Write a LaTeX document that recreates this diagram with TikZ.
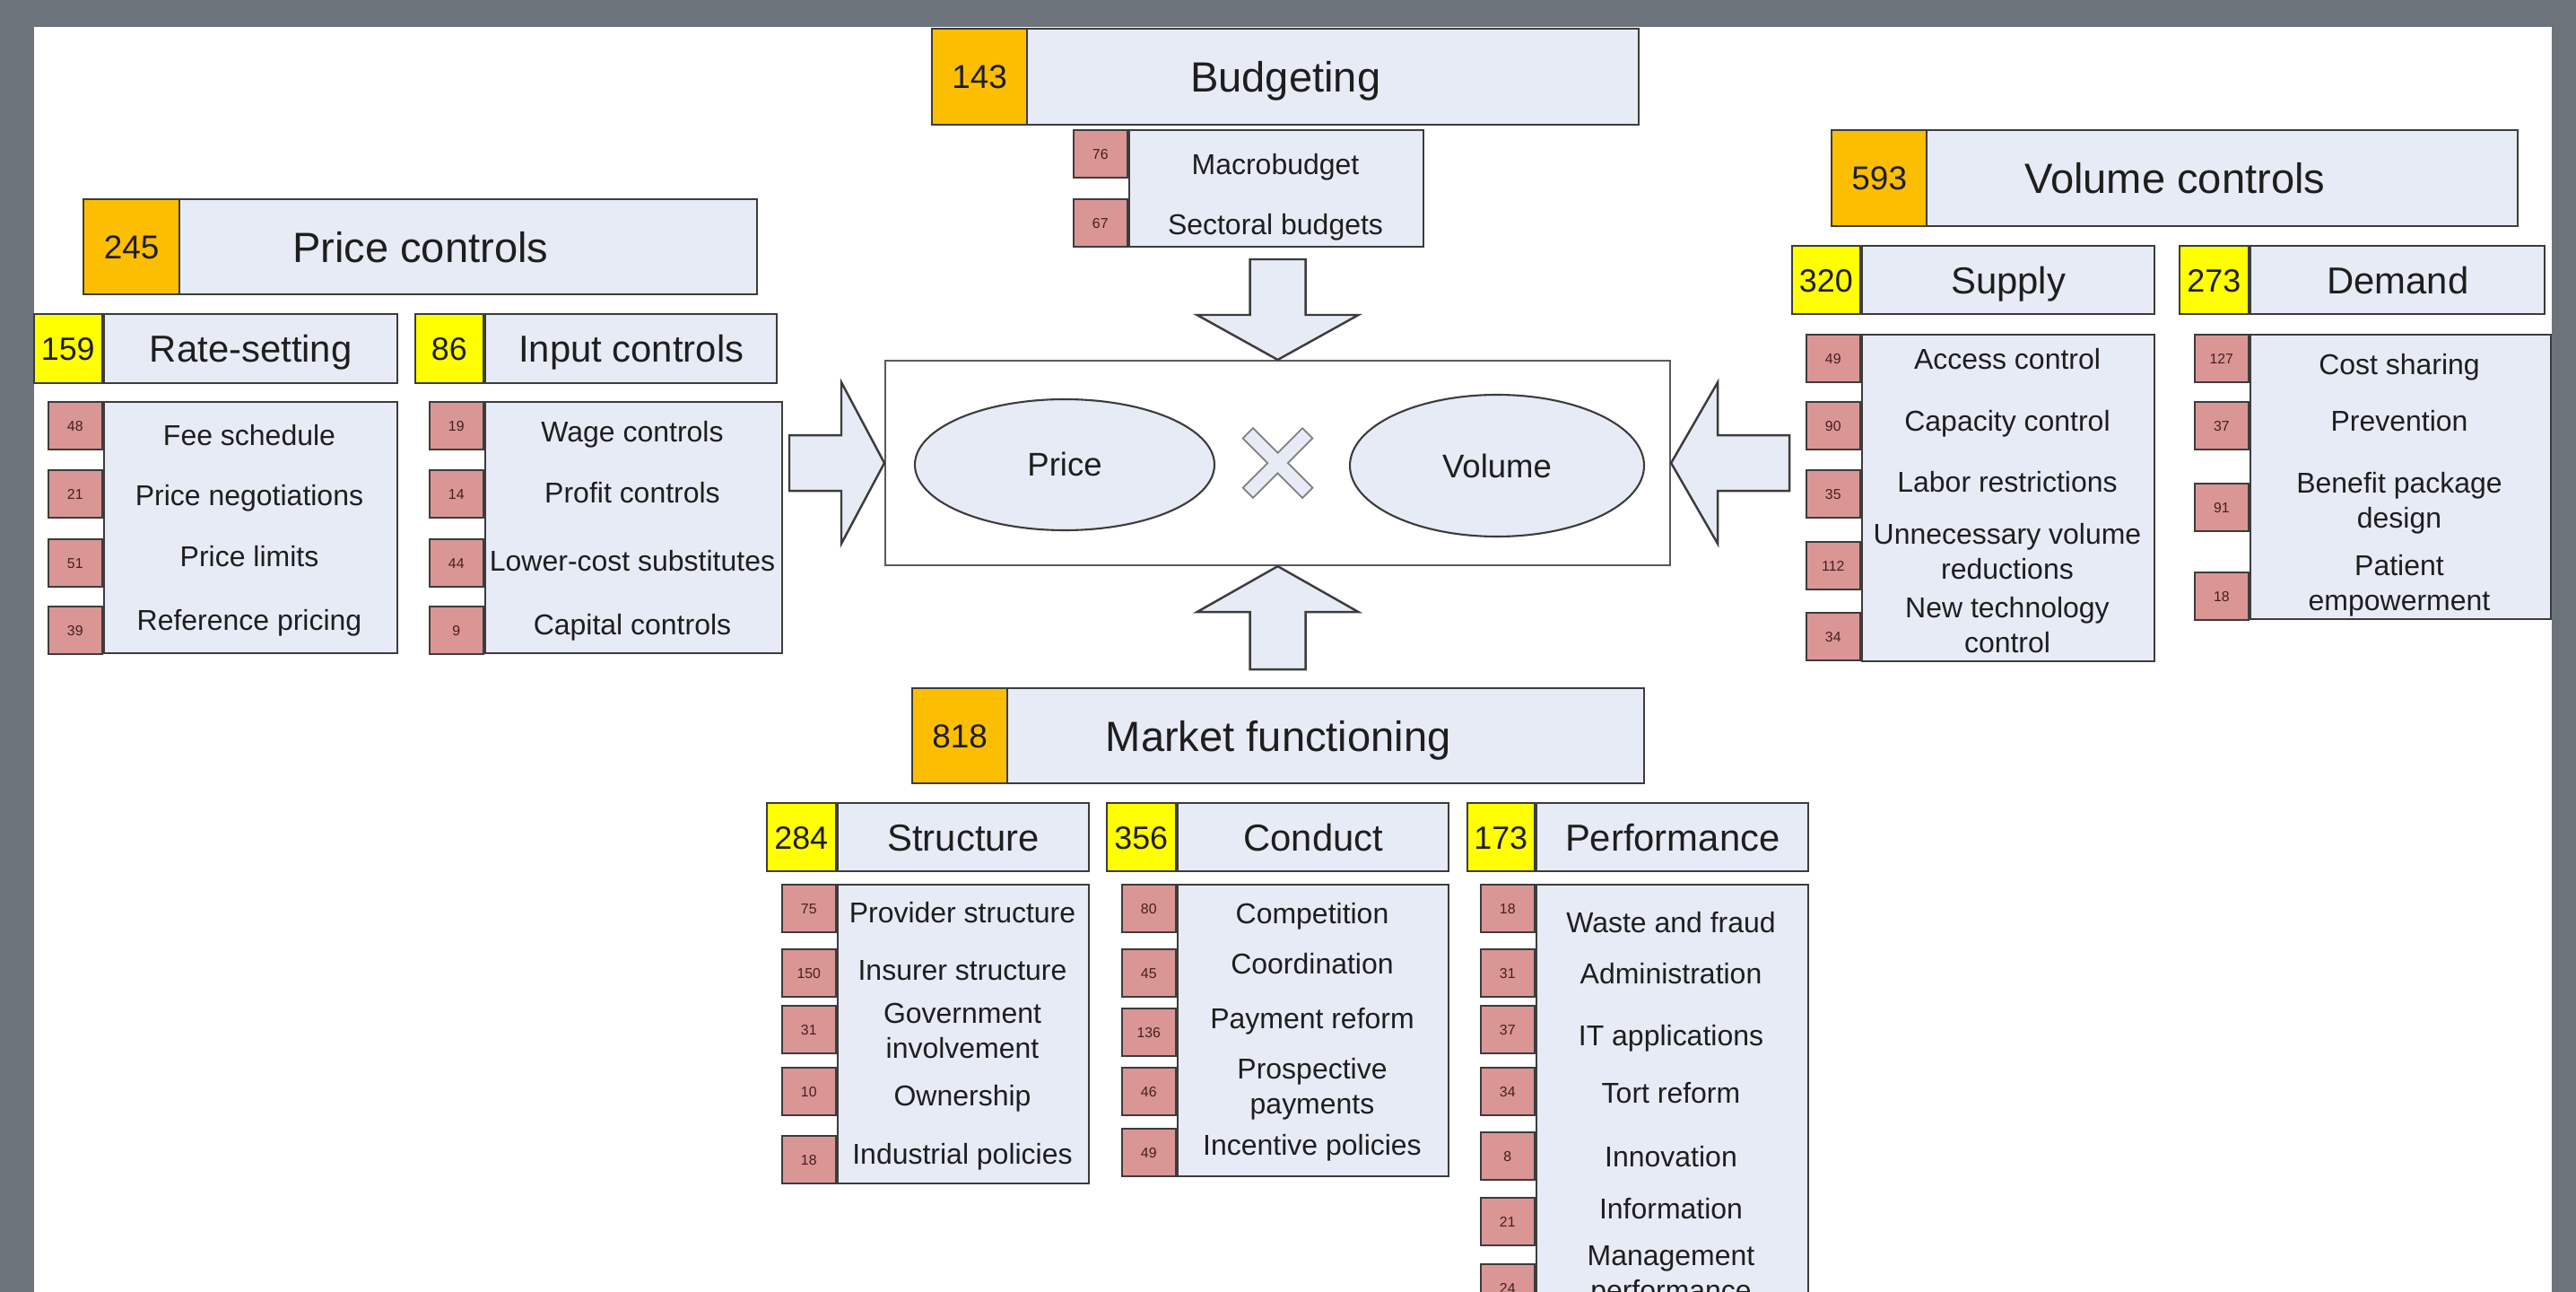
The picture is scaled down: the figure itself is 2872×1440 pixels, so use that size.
\documentclass[tikz,border=0pt]{standalone}
\usepackage{fontspec}
\setmainfont{Liberation Sans}
\usepackage{tikz}
\usetikzlibrary{shapes.geometric}
\definecolor{framegray}{RGB}{108,115,123}
\definecolor{linegray}{RGB}{60,60,60}
\definecolor{lightblue}{RGB}{230,235,246}
\definecolor{orangefill}{RGB}{252,190,0}
\definecolor{yellowfill}{RGB}{255,255,0}
\definecolor{tabred}{RGB}{217,150,148}
\definecolor{tabtext}{RGB}{70,30,30}
\definecolor{inkgray}{RGB}{30,30,30}
\tikzset{
	boxsize/.style 2 args={anchor=north west,minimum width=#1*0.1mm,minimum height=#2*0.1mm},
	headstyle/.style={rectangle,draw=linegray,line width=0.7pt,fill=lightblue,inner sep=0pt,text=inkgray,font=\fontsize{13.4pt}{16pt}\selectfont,text height=9.6pt,text depth=0pt},
	substyle/.style={headstyle,font=\fontsize{11.9pt}{14pt}\selectfont,text height=8.5pt},
	bignumstyle/.style={rectangle,draw=linegray,line width=0.7pt,fill=orangefill,inner sep=0pt,text=inkgray,font=\fontsize{10.5pt}{12pt}\selectfont,text height=7.5pt,text depth=0pt},
	numstyle/.style={bignumstyle,fill=yellowfill,font=\fontsize{10.2pt}{12pt}\selectfont,text height=7.3pt},
	itemboxstyle/.style={rectangle,draw=linegray,line width=0.7pt,fill=lightblue,inner sep=0pt},
	tabstyle/.style={rectangle,draw=linegray,line width=0.7pt,fill=tabred,inner sep=0pt,anchor=north east,minimum width=6mm,minimum height=5.3mm,text=tabtext,font=\fontsize{4.5pt}{5pt}\selectfont,text height=3.2pt,text depth=0pt},
	itemstyle/.style={inner sep=0pt,text=inkgray,font=\fontsize{9.1pt}{11.1pt}\selectfont,text height=6.5pt,text depth=0pt},
	wrapstyle/.style={inner sep=0pt,text=inkgray,font=\fontsize{9.1pt}{11.1pt}\selectfont,align=center},
	corestyle/.style={rectangle,draw=linegray!85,line width=0.6pt,fill=white,inner sep=0pt},
	ellipsestyle/.style={ellipse,draw=linegray,line width=0.6pt,fill=lightblue,inner sep=0pt,text=inkgray,font=\fontsize{10.4pt}{12pt}\selectfont,text height=7.4pt,text depth=0pt},
	arrowstyle/.style={draw=linegray,line width=0.7pt,fill=lightblue,line join=miter},
	crossstyle/.style={draw=gray,line width=0.5pt,fill=lightblue,line join=miter}
}
\begin{document}
\begin{tikzpicture}[x=0.1mm,y=-0.1mm]
		\useasboundingbox (0,0) rectangle (2872,1440);
		\clip (0,0) rectangle (2872,1440);
		\fill[framegray] (0,0) rectangle (2872,1440);
		\fill[white] (38,30) rectangle (2845,1440);
		% centre
		\node[corestyle,boxsize={875}{228}] (core) at (986,401) {};
		\node[ellipsestyle,minimum width=33.4mm,minimum height=14.6mm] (price) at (1187,518) {Price};
		\node[ellipsestyle,minimum width=32.8mm,minimum height=15.8mm] (volume) at (1669,519) {Volume};
		\draw[crossstyle,shift={(core.center)},rotate=45] (8,8)--(47,8)--(47,-8)--(8,-8)--(8,-47)--(-8,-47)--(-8,-8)--(-47,-8)--(-47,8)--(-8,8)--(-8,47)--(8,47)--cycle;
		\draw[arrowstyle,shift={(core.west)}] (0,0)--(-48,-90)--(-48,-31)--(-106,-31)--(-106,31)--(-48,31)--(-48,90)--cycle;
		\draw[arrowstyle,shift={(core.east)}] (0,0)--(52,-90)--(52,-31)--(132,-31)--(132,31)--(52,31)--(52,90)--cycle;
		\draw[arrowstyle,shift={(core.north)}] (0,0)--(-90,-50)--(-31,-50)--(-31,-112)--(31,-112)--(31,-50)--(90,-50)--cycle;
		\draw[arrowstyle,shift={(core.south)}] (0,0)--(-90,51)--(-31,51)--(-31,115)--(31,115)--(31,51)--(90,51)--cycle;
		% price controls
		\node[headstyle,boxsize={751}{106}] (pc) at (92,221) {Price controls};
		\node[bignumstyle,boxsize={107}{106}] (pcn) at (pc.north west) {245};
		\node[substyle,boxsize={327}{77}] (rs) at (115,349) {Rate-setting};
		\node[numstyle,boxsize={76}{77},anchor=north east] (rsn) at (rs.north west) {159};
		\node[substyle,boxsize={325}{77}] (ic) at (540,349) {Input controls};
		\node[numstyle,boxsize={76}{77},anchor=north east] (icn) at (ic.north west) {86};
		\node[itemboxstyle,boxsize={327}{280}] (rsbox) at (115,447) {};
		\node[tabstyle] (rst1) at (115,447) {48};
		\node[tabstyle] (rst2) at (115,523) {21};
		\node[tabstyle] (rst3) at (115,600) {51};
		\node[tabstyle] (rst4) at (115,675) {39};
		\node[itemstyle] (rsi1) at (278,485) {Fee schedule};
		\node[itemstyle] (rsi2) at (278,552) {Price negotiations};
		\node[itemstyle] (rsi3) at (278,620) {Price limits};
		\node[itemstyle] (rsi4) at (278,691) {Reference pricing};
		\node[itemboxstyle,boxsize={331}{280}] (icbox) at (540,447) {};
		\node[tabstyle] (ict1) at (540,447) {19};
		\node[tabstyle] (ict2) at (540,523) {14};
		\node[tabstyle] (ict3) at (540,600) {44};
		\node[tabstyle] (ict4) at (540,675) {9};
		\node[itemstyle] (ici1) at (705,481) {Wage controls};
		\node[itemstyle] (ici2) at (705,549) {Profit controls};
		\node[itemstyle] (ici3) at (705,625) {Lower-cost substitutes};
		\node[itemstyle] (ici4) at (705,696) {Capital controls};
		% budgeting
		\node[headstyle,boxsize={788}{107}] (bu) at (1038,31) {Budgeting};
		\node[bignumstyle,boxsize={106}{107}] (bun) at (bu.north west) {143};
		\node[itemboxstyle,boxsize={328}{130}] (bubox) at (1258,144) {};
		\node[tabstyle] (but1) at (1258,144) {76};
		\node[tabstyle] (but2) at (1258,221) {67};
		\node[itemstyle] (bui1) at (1422,183) {Macrobudget};
		\node[itemstyle] (bui2) at (1422,250) {Sectoral budgets};
		% volume controls
		\node[headstyle,boxsize={765}{107}] (vc) at (2041,144) {Volume controls};
		\node[bignumstyle,boxsize={106}{107}] (vcn) at (vc.north west) {593};
		\node[substyle,boxsize={326}{76}] (su) at (2075,273) {Supply};
		\node[numstyle,boxsize={76}{76},anchor=north east] (sun) at (su.north west) {320};
		\node[substyle,boxsize={328}{76}] (de) at (2508,273) {Demand};
		\node[numstyle,boxsize={77}{76},anchor=north east] (den) at (de.north west) {273};
		\node[itemboxstyle,boxsize={326}{364}] (subox) at (2075,372) {};
		\node[tabstyle] (sut1) at (2075,372) {49};
		\node[tabstyle] (sut2) at (2075,447) {90};
		\node[tabstyle] (sut3) at (2075,523) {35};
		\node[tabstyle] (sut4) at (2075,603) {112};
		\node[tabstyle] (sut5) at (2075,682) {34};
		\node[itemstyle] (sui1) at (2238,400) {Access control};
		\node[itemstyle] (sui2) at (2238,469) {Capacity control};
		\node[itemstyle] (sui3) at (2238,537) {Labor restrictions};
		\node[wrapstyle] (sui4) at (2238,615) {Unnecessary volume\\reductions};
		\node[wrapstyle] (sui5) at (2238,697) {New technology\\control};
		\node[itemboxstyle,boxsize={335}{317}] (debox) at (2508,372) {};
		\node[tabstyle] (det1) at (2508,372) {127};
		\node[tabstyle] (det2) at (2508,447) {37};
		\node[tabstyle] (det3) at (2508,538) {91};
		\node[tabstyle] (det4) at (2508,637) {18};
		\node[itemstyle] (dei1) at (2675,406) {Cost sharing};
		\node[itemstyle] (dei2) at (2675,469) {Prevention};
		\node[wrapstyle] (dei3) at (2675,561) {Benefit package\\design};
		\node[wrapstyle] (dei4) at (2675,653) {Patient\\empowerment};
		% market functioning
		\node[headstyle,boxsize={816}{106}] (mf) at (1016,766) {Market functioning};
		\node[bignumstyle,boxsize={106}{106}] (mfn) at (mf.north west) {818};
		\node[substyle,boxsize={280}{76}] (st) at (933,894) {Structure};
		\node[numstyle,boxsize={77}{76},anchor=north east] (stn) at (st.north west) {284};
		\node[substyle,boxsize={302}{76}] (co) at (1312,894) {Conduct};
		\node[numstyle,boxsize={77}{76},anchor=north east] (con) at (co.north west) {356};
		\node[substyle,boxsize={303}{76}] (pe) at (1712,894) {Performance};
		\node[numstyle,boxsize={75}{76},anchor=north east] (pen) at (pe.north west) {173};
		\node[itemboxstyle,boxsize={280}{333}] (stbox) at (933,985) {};
		\node[tabstyle] (stt1) at (933,985) {75};
		\node[tabstyle] (stt2) at (933,1057) {150};
		\node[tabstyle] (stt3) at (933,1120) {31};
		\node[tabstyle] (stt4) at (933,1189) {10};
		\node[tabstyle] (stt5) at (933,1265) {18};
		\node[itemstyle] (sti1) at (1073,1017) {Provider structure};
		\node[itemstyle] (sti2) at (1073,1081) {Insurer structure};
		\node[wrapstyle] (sti3) at (1073,1149) {Government\\involvement};
		\node[itemstyle] (sti4) at (1073,1221) {Ownership};
		\node[itemstyle] (sti5) at (1073,1286) {Industrial policies};
		\node[itemboxstyle,boxsize={302}{325}] (cobox) at (1312,985) {};
		\node[tabstyle] (cot1) at (1312,985) {80};
		\node[tabstyle] (cot2) at (1312,1057) {45};
		\node[tabstyle] (cot3) at (1312,1123) {136};
		\node[tabstyle] (cot4) at (1312,1189) {46};
		\node[tabstyle] (cot5) at (1312,1257) {49};
		\node[itemstyle] (coi1) at (1463,1018) {Competition};
		\node[itemstyle] (coi2) at (1463,1074) {Coordination};
		\node[itemstyle] (coi3) at (1463,1135) {Payment reform};
		\node[wrapstyle] (coi4) at (1463,1214) {Prospective\\payments};
		\node[itemstyle] (coi5) at (1463,1276) {Incentive policies};
		\node[itemboxstyle,boxsize={303}{500}] (pebox) at (1712,985) {};
		\node[tabstyle] (pet1) at (1712,985) {18};
		\node[tabstyle] (pet2) at (1712,1057) {31};
		\node[tabstyle] (pet3) at (1712,1120) {37};
		\node[tabstyle] (pet4) at (1712,1189) {34};
		\node[tabstyle] (pet5) at (1712,1261) {8};
		\node[tabstyle] (pet6) at (1712,1334) {21};
		\node[tabstyle] (pet7) at (1712,1408) {24};
		\node[itemstyle] (pei1) at (1863,1028) {Waste and fraud};
		\node[itemstyle] (pei2) at (1863,1085) {Administration};
		\node[itemstyle] (pei3) at (1863,1154) {IT applications};
		\node[itemstyle] (pei4) at (1863,1218) {Tort reform};
		\node[itemstyle] (pei5) at (1863,1289) {Innovation};
		\node[itemstyle] (pei6) at (1863,1347) {Information};
		\node[wrapstyle] (pei7) at (1863,1422) {Management\\performance};
		\end{tikzpicture}
\end{document}
